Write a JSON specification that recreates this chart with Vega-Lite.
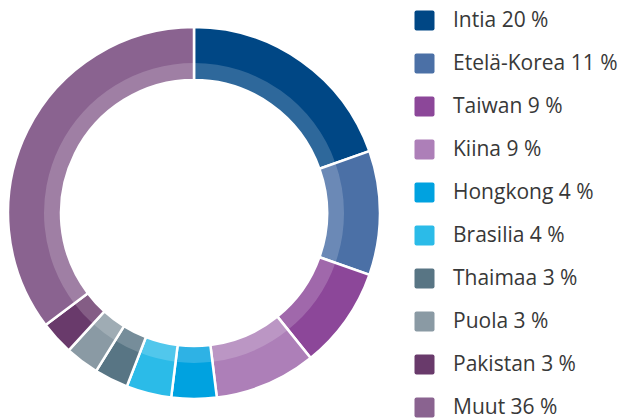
{
  "$schema": "https://vega.github.io/schema/vega-lite/v6.json",
  "width": 388,
  "height": 426,
  "padding": {"left": 0, "top": 0, "right": 242, "bottom": 0},
  "autosize": {"type": "none"},
  "background": "white",
  "data": {
    "values": [
      {"label": "Intia 20 %", "value": 20, "order": 1},
      {"label": "Etelä-Korea 11 %", "value": 11, "order": 2},
      {"label": "Taiwan 9 %", "value": 9, "order": 3},
      {"label": "Kiina 9 %", "value": 9, "order": 4},
      {"label": "Hongkong 4 %", "value": 4, "order": 5},
      {"label": "Brasilia 4 %", "value": 4, "order": 6},
      {"label": "Thaimaa 3 %", "value": 3, "order": 7},
      {"label": "Puola 3 %", "value": 3, "order": 8},
      {"label": "Pakistan 3 %", "value": 3, "order": 9},
      {"label": "Muut 36 %", "value": 36, "order": 10}
    ]
  },
  "encoding": {
    "theta": {"field": "value", "type": "quantitative", "stack": true},
    "order": {"field": "order", "type": "quantitative"}
  },
  "layer": [
    {
      "mark": {"type": "arc", "radius": 186, "radius2": 133, "stroke": "white", "strokeWidth": 2.5},
      "encoding": {
        "color": {
          "field": "label",
          "type": "nominal",
          "sort": {"field": "order"},
          "scale": {
            "domain": ["Intia 20 %", "Etelä-Korea 11 %", "Taiwan 9 %", "Kiina 9 %", "Hongkong 4 %", "Brasilia 4 %", "Thaimaa 3 %", "Puola 3 %", "Pakistan 3 %", "Muut 36 %"],
            "range": ["#004785", "#4b70a6", "#8c4799", "#ad7fb8", "#00a2e0", "#2bbbe8", "#587584", "#8a9aa4", "#693a6b", "#8a6390"]
          },
          "legend": {
            "title": null,
            "orient": "none",
            "legendX": 414,
            "legendY": 10,
            "symbolType": "M-0.8,-1L0.8,-1Q1,-1 1,-0.8L1,0.8Q1,1 0.8,1L-0.8,1Q-1,1 -1,0.8L-1,-0.8Q-1,-1 -0.8,-1Z",
            "symbolSize": 400,
            "symbolStrokeWidth": 0,
            "symbolOpacity": 1,
            "labelFont": "Open Sans",
            "labelFontSize": 21,
            "labelColor": "#383838",
            "labelOffset": 18,
            "labelLimit": 300,
            "rowPadding": 21,
            "labelBaseline": "middle"
          }
        }
      }
    },
    {
      "mark": {"type": "arc", "radius": 150, "radius2": 133, "fill": "white", "fillOpacity": 0.18, "strokeWidth": 0}
    }
  ]
}
